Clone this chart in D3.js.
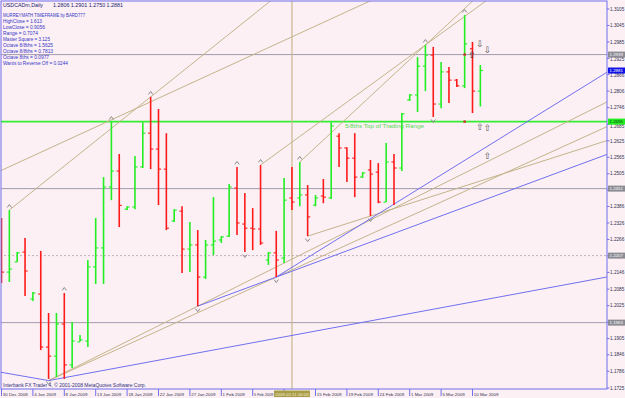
<!DOCTYPE html>
<html><head><meta charset="utf-8">
<script src="https://cdn.jsdelivr.net/npm/d3@7"></script>
<style>body{margin:0;background:#fcf0f4;overflow:hidden}svg{display:block}</style>
</head><body><svg id="c" width="625" height="398"></svg>
<script>
// ---- data ----
const dateLabels = ["30 Dec 2008","4 Jan 2009","8 Jan 2009","13 Jan 2009","18 Jan 2009","22 Jan 2009","27 Jan 2009","1 Feb 2009","5 Feb 2009","","15 Feb 2009","19 Feb 2009","24 Feb 2009","1 Mar 2009","5 Mar 2009","10 Mar 2009"];
const openP  = [1.2307,1.2147,1.2184,1.2220,1.2049,1.2067,1.1874,1.1841,1.1958,1.1809,1.1893,1.1896,1.2166,1.2235,1.2457,1.2515,1.2376,1.2384,1.2530,1.2653,1.2595,1.2522,1.2333,1.2369,1.2231,1.2246,1.2129,1.2246,1.2264,1.2278,1.2453,1.2322,1.2307,1.2304,1.2191,1.2217,1.2198,1.2417,1.2417,1.2428,1.2391,1.2424,1.2417,1.2642,1.2599,1.2562,1.2493,1.2519,1.2511,1.2402,1.2548,1.2526,1.2774,1.2792,1.2897,1.2937,1.2759,1.2876,1.2846,1.2825,1.2960,1.2806];
const highP  = [1.2344,1.2373,1.2220,1.2271,1.2075,1.2224,1.1998,1.1998,1.2071,1.1965,1.1918,1.2191,1.2344,1.2493,1.2693,1.2577,1.2387,1.2570,1.2693,1.2785,1.2741,1.2653,1.2376,1.2387,1.2329,1.2300,1.2264,1.2420,1.2278,1.2468,1.2530,1.2435,1.2380,1.2537,1.2220,1.2297,1.2490,1.2530,1.2548,1.2464,1.2428,1.2486,1.2693,1.2653,1.2602,1.2653,1.2511,1.2555,1.2544,1.2617,1.2577,1.2726,1.2795,1.2930,1.2974,1.2967,1.2912,1.2894,1.2850,1.3083,1.2985,1.2901];
const lowP   = [1.2107,1.2111,1.2184,1.2060,1.2042,1.1863,1.1758,1.1765,1.1758,1.1798,1.1893,1.1874,1.2104,1.2104,1.2409,1.2311,1.2373,1.2376,1.2526,1.2522,1.2391,1.2300,1.2329,1.2144,1.2147,1.2023,1.2122,1.2209,1.2253,1.2275,1.2282,1.2220,1.2227,1.2246,1.2173,1.2129,1.2180,1.2373,1.2387,1.2278,1.2387,1.2398,1.2413,1.2530,1.2475,1.2420,1.2490,1.2351,1.2398,1.2402,1.2391,1.2515,1.2770,1.2730,1.2806,1.2712,1.2744,1.2763,1.2821,1.2817,1.2726,1.2750];
const closeP = [1.2147,1.2158,1.2217,1.2151,1.2071,1.1874,1.1841,1.1958,1.1809,1.1896,1.1900,1.2166,1.2235,1.2457,1.2515,1.2390,1.2384,1.2530,1.2653,1.2595,1.2522,1.2307,1.2373,1.2231,1.2246,1.2129,1.2246,1.2260,1.2275,1.2457,1.2326,1.2307,1.2304,1.2253,1.2217,1.2191,1.2409,1.2402,1.2428,1.2348,1.2417,1.2420,1.2679,1.2599,1.2562,1.2493,1.2508,1.2504,1.2402,1.2548,1.2526,1.2723,1.2792,1.2897,1.2937,1.2759,1.2876,1.2846,1.2825,1.2978,1.2806,1.2881];
const fractalUp = [1,8,14,19,30,33,38,54,59];
const fractalDown = [6,25,31,35,39,47,55];
const priceTicks = ["1.3105","1.3045","1.2985","1.2925","1.2866","1.2806","1.2746","1.2685","1.2625","1.2565","1.2505","1.2446","1.2386","1.2326","1.2266","1.2206","1.2146","1.2085","1.2025","1.1965","1.1905","1.1846","1.1786","1.1725"];
const murreyLevels = ["1.2939","1.2695","1.2451","1.2207","1.1963"];
const murreyKinds  = ["gray","green","gray","dot","gray"];
const headerName = "USDCADm,Daily";
const headerOHLC = "1.2806 1.2901 1.2750 1.2881";
const infoLines = ["MURREYMATH TIMEFRAME by BARD777","HighClose = 1.613","LowClose = 0.9056","Range = 0.7074","Master Square = 3.125","Octave 8/8ths = 1.5625","Octave 8/8ths = 0.7813","Octave 8ths = 0.0977","Wants to Reverse Off = 0.0244"];
const infoWidths = [82,39,42,35,47,50,50,46,65];
// trend lines: [index1, price1, index2, price2, extendRight]
const blueLines = [
  [-0.2,1.1783, 6,1.1752, 0],
  [6,1.1752, 77.1,1.2129, 1],
  [25,1.2023, 35,1.2129, 1],
  [35,1.2129, 73.7,1.2814, 1]
];
const khakiLines = [
  [6,1.1752, 35,1.2129, 1],
  [6,1.1752, 25,1.2023, 1],
  [39,1.2278, 47,1.2351, 1],
  [-0.2,1.2515, 46.7,1.3131, 1],
  [1,1.2373, 19,1.2785, 1],
  [33,1.2537, 54,1.2974, 1],
  [38,1.2548, 54,1.2974, 1]
];
const vLineIndex = 37;
const vLineLabel = "2009.02.11 00:00";
const downArrows = [[60.95,1.2968],[61.9,1.2946]];
const upArrows = [[60.95,1.2666],[61.9,1.2659],[61.9,1.2560]];
const darkUpArrows = [[59.95,1.2925]];
const markSquares = [[59,1.2939],[59,1.2695]];

// ---- drawing ----
const svg = d3.select("#c");
const W = 625, H = 398, plotR = 607, plotB = 389;
const x = d3.scaleLinear().domain([0, 61]).range([1.5, 480.35]);
const y = d3.scaleLinear().domain([1.1725, 1.3105]).range([388, 9]);
const bg = "#fcf0f4";
const FONT = "Liberation Sans, Arial, sans-serif";
svg.append("rect").attr("width", W).attr("height", H).attr("fill", bg);
svg.append("defs").append("clipPath").attr("id","pc").append("rect")
  .attr("x",1).attr("y",1).attr("width",plotR-1).attr("height",plotB-1);
const g = svg.append("g").attr("clip-path","url(#pc)");

murreyLevels.forEach((v,k)=>{
  const kind = murreyKinds[k];
  g.append("line").attr("x1",0).attr("x2",plotR).attr("y1",y(+v)).attr("y2",y(+v))
   .attr("stroke", kind==="green" ? "#33ee33" : (kind==="dot" ? "#c0b0bc" : "#a09cae"))
   .attr("stroke-width", kind==="green" ? 1.6 : 1)
   .attr("stroke-dasharray", kind==="dot" ? "2,2" : null);
});
g.append("line").attr("x1",x(vLineIndex)).attr("x2",x(vLineIndex)).attr("y1",0).attr("y2",plotB)
 .attr("stroke","#c8b890").attr("stroke-width",1.2);

function drawLines(arr, color){
  arr.forEach(l=>{
    const [i1,p1,i2,p2,ray] = l;
    let X1=x(i1),Y1=y(p1),X2=x(i2),Y2=y(p2);
    if(ray){ const s=(Y2-Y1)/(X2-X1); const XE=plotR+5; Y2=Y1+s*(XE-X1); X2=XE; }
    g.append("line").attr("x1",X1).attr("y1",Y1).attr("x2",X2).attr("y2",Y2)
     .attr("stroke",color).attr("stroke-width",1);
  });
}
drawLines(khakiLines, "#c4b48a");
drawLines(blueLines, "#7070f0");

g.append("text").attr("x",345).attr("y",y(+murreyLevels[1])+6.2).attr("font-family",FONT)
 .attr("font-size",5.2).attr("fill","#55d855").attr("textLength",79).attr("lengthAdjust","spacingAndGlyphs")
 .text("5/8ths Top of Trading Range");

const n = openP.length;
for(let i=0;i<n;i++){
  const up = closeP[i] >= openP[i];
  const col = up ? "#22ee22" : "#ff1a1a";
  const X = x(i);
  g.append("line").attr("x1",X).attr("x2",X).attr("y1",y(highP[i])).attr("y2",y(lowP[i]))
   .attr("stroke",col).attr("stroke-width",1.6);
  g.append("line").attr("x1",X-2.6).attr("x2",X).attr("y1",y(openP[i])).attr("y2",y(openP[i]))
   .attr("stroke",col).attr("stroke-width",1.1);
  g.append("line").attr("x1",X).attr("x2",X+2.6).attr("y1",y(closeP[i])).attr("y2",y(closeP[i]))
   .attr("stroke",col).attr("stroke-width",1.1);
}
fractalUp.forEach(i=>{
  const X=x(i), Y=y(highP[i])-4;
  g.append("path").attr("d",`M${X-2.2},${Y+1.5}L${X},${Y-1.5}L${X+2.2},${Y+1.5}`)
   .attr("fill","none").attr("stroke","#8a8a8a").attr("stroke-width",1);
});
fractalDown.forEach(i=>{
  const X=x(i), Y=y(lowP[i])+4;
  g.append("path").attr("d",`M${X-2.2},${Y-1.5}L${X},${Y+1.5}L${X+2.2},${Y-1.5}`)
   .attr("fill","none").attr("stroke","#8a8a8a").attr("stroke-width",1);
});
function arrow(a, ch, fill){
  g.append("text").attr("x",x(a[0])).attr("y",y(a[1])).attr("text-anchor","middle")
   .attr("font-family","DejaVu Sans").attr("font-size",9).attr("fill",fill).text(ch);
}
downArrows.forEach(a=>arrow(a,"\u21E9","#555"));
upArrows.forEach(a=>arrow(a,"\u21E7","#555"));
darkUpArrows.forEach(a=>arrow(a,"\u21E7","#222"));
markSquares.forEach(a=>{
  g.append("rect").attr("x",x(a[0])-1.2).attr("y",y(a[1])-1.2).attr("width",2.4).attr("height",2.4).attr("fill","#d03030");
});

svg.append("rect").attr("x",1).attr("y",1).attr("width",plotR-1).attr("height",plotB-1)
 .attr("fill","none").attr("stroke","#6f6ff0").attr("stroke-width",1);

const info = svg.append("g").attr("font-family",FONT).attr("font-size",5).attr("fill","#3535c8");
info.append("text").attr("x",3).attr("y",7).attr("fill","#202070").attr("textLength",40).attr("lengthAdjust","spacingAndGlyphs").text(headerName);
info.append("text").attr("x",53).attr("y",7).attr("fill","#202070").attr("textLength",70).attr("lengthAdjust","spacingAndGlyphs").text(headerOHLC);
infoLines.forEach((t,k)=>{
  info.append("text").attr("x",3).attr("y",16.8 + k*6.04)
   .attr("textLength",infoWidths[k]).attr("lengthAdjust","spacingAndGlyphs").text(t);
});
svg.append("text").attr("x",3).attr("y",386.5).attr("font-family",FONT)
 .attr("font-size",4.6).attr("fill","#303080").attr("textLength",143).attr("lengthAdjust","spacingAndGlyphs")
 .text("Interbank FX Trader 4, \u00A9 2001-2008 MetaQuotes Software Corp.");

// right axis
const ax = svg.append("g").attr("font-family",FONT).attr("font-size",4.7).attr("fill","#303050");
const boxes = murreyLevels.map(v=>y(+v)).concat([y(closeP[n-1])]);
priceTicks.forEach(t=>{
  const Y = y(+t);
  ax.append("line").attr("x1",plotR).attr("x2",plotR+2.5).attr("y1",Y).attr("y2",Y).attr("stroke","#6f6ff0");
  let d = boxes.map(b=>Y-b).reduce((a,b)=>Math.abs(b)<Math.abs(a)?b:a, 99);
  if(Math.abs(d) < 2.5) return;              // hidden under a price box
  let base = Y+1.7;
  if(Math.abs(d) < 6.6){ base = d>0 ? (Y-d)+3+3.6 : (Y-d)-3-0.4; }
  ax.append("text").attr("x",plotR+3).attr("y",base).text(t);
});
murreyLevels.forEach((v,k)=>{
  const Y=y(+v), kind=murreyKinds[k];
  ax.append("rect").attr("x",plotR+1).attr("y",Y-3).attr("width",17).attr("height",6)
    .attr("fill", kind==="green" ? "#22ee22" : "#8c8c94");
  ax.append("text").attr("x",plotR+2.5).attr("y",Y+1.6).attr("font-size",4.4).attr("fill", kind==="green" ? "#104010" : "#ffffff").text(v);
});
(function(){
  const v = closeP[n-1], Y=y(v);
  ax.append("rect").attr("x",plotR+1).attr("y",Y-3).attr("width",17).attr("height",6).attr("fill","#1010e8");
  ax.append("text").attr("x",plotR+2.5).attr("y",Y+1.6).attr("font-size",4.4).attr("fill","#ffffff").text(v.toFixed(4));
})();

// bottom axis
const bx = svg.append("g").attr("font-family",FONT).attr("font-size",4.4).attr("fill","#303050");
const boxL = x(vLineIndex)-18, boxW = 36;
dateLabels.forEach((t,k)=>{
  const X = x(k*4);
  bx.append("line").attr("x1",X).attr("x2",X).attr("y1",plotB).attr("y2",plotB+7).attr("stroke","#6f6ff0");
  if(!t) return;
  const tx = bx.append("text").attr("x",X+1.3).attr("y",395.8).text(t);
  const w = tx.node().getComputedTextLength();
  if(X+1.3 < boxL && X+1.3+w > boxL-0.8){
    tx.attr("textLength", boxL-0.8-(X+1.3)).attr("lengthAdjust","spacingAndGlyphs");
  }
});
bx.append("rect").attr("x",boxL).attr("y",plotB+1.5).attr("width",boxW).attr("height",6.5).attr("fill","#a89c48");
bx.append("text").attr("x",boxL+boxW/2).attr("y",395.7).attr("text-anchor","middle").attr("font-size",4.3)
  .attr("fill","#f4f0d0").attr("textLength",boxW-2).attr("lengthAdjust","spacingAndGlyphs").text(vLineLabel);
</script>
</body></html>
